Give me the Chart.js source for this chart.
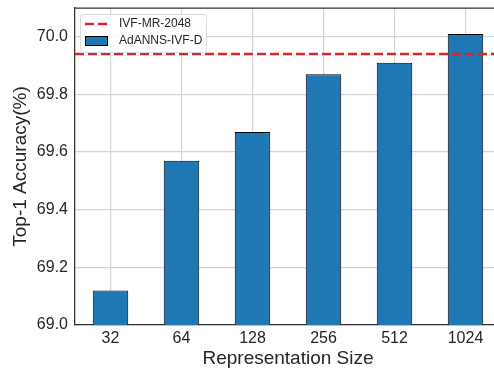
<!DOCTYPE html>
<html>
<head>
<meta charset="utf-8">
<script src="https://cdn.jsdelivr.net/npm/chart.js@4/dist/chart.umd.min.js"></script>
<style>
  html, body { margin: 0; padding: 0; overflow: hidden; background: #fff; }
  #wrap { width: 494px; height: 369px; }
</style>
</head>
<body>
<div id="wrap"><canvas id="c" width="494" height="369"></canvas></div>
<script>
// Top-1 accuracy of AdANNS-IVF-D per representation size, against the IVF-MR-2048 baseline
const sizes = ['32', '64', '128', '256', '512', '1024'];
const adannsAcc = [69.12, 69.57, 69.67, 69.87, 69.91, 70.01];
const ivfMrAcc = [69.94, 69.94];
const baselineSpan = [-0.5, 5.5];
const yTicks = [69.0, 69.2, 69.4, 69.6, 69.8, 70.0];

const FONT = "'Liberation Sans', Arial, Helvetica, sans-serif";
const TEXT = '#262626';
const GRID = '#d5d5d5';
const SPINE = '#333333';
const AXES_RIGHT = 501; // the axes continue a little past the canvas edge

// In-axes legend with rounded frame, in dataset order
const innerLegend = {
  id: 'innerLegend',
  afterDraw(chart) {
    const ctx = chart.ctx;
    const ds = chart.data.datasets;
    const x = 80, y = 14, w = 126, h = 38;
    ctx.save();
    ctx.beginPath();
    ctx.roundRect(x + 0.5, y + 0.5, w, h, 3);
    ctx.fillStyle = 'rgba(255,255,255,0.85)';
    ctx.fill();
    ctx.strokeStyle = '#d9d9d9';
    ctx.lineWidth = 1;
    ctx.stroke();
    ctx.font = '12px ' + FONT;
    ctx.textBaseline = 'middle';
    ds.forEach((d, i) => {
      const cy = y + 10 + i * 17;
      if (d.type === 'line') {
        ctx.beginPath();
        ctx.setLineDash(d.borderDash);
        ctx.strokeStyle = d.borderColor;
        ctx.lineWidth = d.borderWidth;
        ctx.moveTo(85, cy);
        ctx.lineTo(108, cy);
        ctx.stroke();
        ctx.setLineDash([]);
      } else {
        ctx.fillStyle = d.backgroundColor;
        ctx.fillRect(85.5, cy - 4.5, 22, 9);
        ctx.strokeStyle = d.borderColor;
        ctx.lineWidth = 1;
        ctx.strokeRect(85.5, cy - 4.5, 22, 9);
      }
      ctx.fillStyle = TEXT;
      ctx.fillText(d.label, 119, cy);
    });
    ctx.restore();
  }
};

// Stretch both horizontal scales so the axes run past the right canvas edge
const widenAxes = {
  id: 'widenAxes',
  afterLayout(chart) {
    ['x', 'x2'].forEach(id => {
      const s = chart.scales[id];
      s.right = AXES_RIGHT;
      s.width = s.right - s.left;
      s.configure();
    });
  }
};

// Top spine of the axes frame
const frame = {
  id: 'frame',
  afterDatasetsDraw(chart) {
    const { ctx, chartArea: a } = chart;
    ctx.save();
    ctx.strokeStyle = SPINE;
    ctx.lineWidth = 1.25;
    ctx.beginPath();
    ctx.moveTo(a.left, a.top);
    ctx.lineTo(chart.width, a.top);
    ctx.stroke();
    ctx.restore();
  }
};

new Chart(document.getElementById('c'), {
  data: {
    labels: sizes,
    datasets: [
      {
        type: 'line',
        label: 'IVF-MR-2048',
        data: baselineSpan.map((x, i) => ({ x, y: ivfMrAcc[i] })),
        xAxisID: 'x2',
        borderColor: '#d62728',
        borderWidth: 2.5,
        borderDash: [9, 4],
        pointRadius: 0,
        fill: false
      },
      {
        type: 'bar',
        label: 'AdANNS-IVF-D',
        data: adannsAcc,
        xAxisID: 'x',
        grouped: false,
        backgroundColor: '#1f77b4',
        borderColor: '#000000',
        borderWidth: 1,
        borderSkipped: false,
        barPercentage: 0.5,
        categoryPercentage: 1.0
      }
    ]
  },
  options: {
    responsive: false,
    animation: false,
    layout: { padding: { top: 8, right: 0, left: 0, bottom: 0 } },
    plugins: { legend: { display: false }, tooltip: { enabled: false } },
    scales: {
      x: {
        type: 'category',
        offset: true,
        grid: { offset: false, color: GRID, lineWidth: 1.2, drawTicks: false },
        border: { color: SPINE, width: 1.25 },
        ticks: { color: TEXT, font: { family: FONT, size: 16 }, padding: 4, maxRotation: 0 },
        title: {
          display: true, text: 'Representation Size', color: TEXT,
          font: { family: FONT, size: 19, lineHeight: 1.05 }, padding: { top: 0, bottom: 0 }
        },
        afterFit(s) { s.height = 44; s.paddingLeft = 0; s.paddingRight = 0; }
      },
      x2: {
        type: 'linear',
        display: false,
        min: -0.5,
        max: 5.5
      },
      y: {
        type: 'linear',
        min: 69.0,
        max: 70.1,
        grid: { color: GRID, lineWidth: 1.2, drawTicks: false },
        border: { color: SPINE, width: 1.25 },
        afterBuildTicks(s) { s.ticks = yTicks.map(v => ({ value: v })); },
        ticks: {
          color: TEXT, font: { family: FONT, size: 16 }, padding: 7,
          callback: v => Number(v).toFixed(1)
        },
        title: {
          display: true, text: 'Top-1 Accuracy(%)', color: TEXT,
          font: { family: FONT, size: 19 }, padding: { top: 9, bottom: 0 }
        },
        afterFit(s) { s.width = 75; s.paddingTop = 0; s.paddingBottom = 0; }
      }
    }
  },
  plugins: [widenAxes, frame, innerLegend]
});
</script>
</body>
</html>
